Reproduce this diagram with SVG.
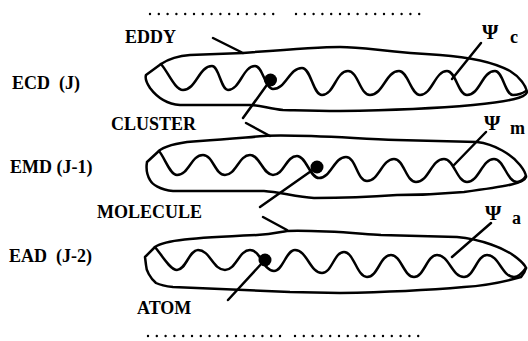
<svg xmlns="http://www.w3.org/2000/svg" width="528" height="341" viewBox="0 0 528 341">
<style>
.t{font-family:"Liberation Serif","Times New Roman",serif;font-weight:bold;font-size:18px;fill:#000;white-space:pre}
.p{font-size:21px}
.s{fill:none;stroke:#000;stroke-width:2.5;stroke-linecap:round;stroke-linejoin:round}
.d{fill:none;stroke:#000;stroke-width:2.4;stroke-linecap:round;stroke-dasharray:0 8.8}
.dot{fill:#000}
</style>
<rect width="528" height="341" fill="#fff"/>
<g id="dots-top">
<path class="d" d="M150,14H282M296,14H426"/>
</g>
<g id="dots-bottom">
<path class="d" d="M148,336H282M295,336H423"/>
</g>
<g id="ecd">
<path class="s" d="M161,64 C167,60 175,56 190,55 L243,53 C280,50 320,47 340,47 C365,47 385,52 440,55 C470,57 495,63 510,71 C520,77 526,86 527,92 C526,98 510,101 473,105 C440,108 410,110 340,111 C310,111 290,110 283,110 C270,109 260,105 250,105 L180,105 C166,104 156,96 150,88 C146,82 145,78 146,75 Z"/>
<path class="s" d="M161,64 C168,72 175,90 183,90 C196,90 199,66 212,66 C219,66 221,90 228,90 C240,90 243,66 255,66 C263,66 265,89 273,89 C286,89 289,68 302,68 C311,68 313,95 322,95 C334,95 336,71 348,71 C358,71 360,95 370,95 C383,95 386,71 399,71 C408,71 411,95 420,95 C432,95 435,71 447,71 C456,71 458,95 467,95 C480,95 482,71 495,71 C503,71 505,95 513,95 C519,95 523,93 526,91"/>
<circle class="dot" cx="270.5" cy="80" r="6.5"/>
<text class="t" x="12" y="89">ECD  (J)</text>
</g>
<g id="emd">
<path class="s" d="M160,150 C168,145 180,142 200,141 C230,139 250,137 264,136 C290,134 330,137 397,140 L477,142 C495,144 512,155 520,165 C524,170 526,174 526,177 C524,183 510,186 464,192 C430,195 410,195 397,195 C370,197 330,198 314,198 C296,197 280,192 264,191 L173,191 C160,190 152,184 150,180 C147,175 146,168 147,162 Z"/>
<path class="s" d="M159,151 C165,158 170,175 177,175 C189,175 191,155 203,155 C213,155 215,175 225,175 C236,175 239,155 250,155 C260,155 263,175 273,175 C284,175 286,156 297,156 C306,156 310,178 319,178 C331,178 334,157 346,157 C356,157 357,181 367,181 C379,181 382,159 394,159 C404,159 406,182 416,182 C429,182 431,159 444,159 C454,159 457,182 467,182 C479,182 482,159 494,159 C504,159 507,182 517,182 C521,182 524,179 526,176"/>
<circle class="dot" cx="317" cy="167" r="6.5"/>
<text class="t" x="10" y="173">EMD (J-1)</text>
</g>
<g id="ead">
<path class="s" d="M155,247 C165,240 190,238 257,235 C272,234 280,232 287,231 C320,230 350,233 381,235 L457,237 C480,239 505,248 517,258 C522,262 525,265 526,268 C525,272 523,275 521,277 C500,283 480,286 464,287 C430,290 400,292 340,293 L290,292 C240,290 200,288 173,287 C163,286 158,284 156,283 C150,278 146,270 146,265 L145,257 Z"/>
<path class="s" d="M155,247 C161,254 170,270 177,270 C186,270 189,250 198,250 C210,250 213,270 225,270 C236,270 239,250 250,250 C261,250 263,271 274,271 C283,271 286,250 295,250 C307,250 310,273 322,273 C332,273 334,252 344,252 C354,252 357,277 367,277 C378,277 380,255 391,255 C401,255 404,277 414,277 C424,277 427,255 437,255 C449,255 452,277 464,277 C474,277 477,255 487,255 C499,255 502,277 514,277 C519,277 523,272 526,268"/>
<circle class="dot" cx="265" cy="260" r="6.5"/>
<text class="t" x="9" y="262">EAD  (J-2)</text>
</g>
<g id="labels">
<text class="t" x="125" y="43">EDDY</text>
<text class="t" x="111" y="130">CLUSTER</text>
<text class="t" x="97" y="218">MOLECULE</text>
<text class="t" x="137" y="314">ATOM</text>
<text class="t p" x="482" y="39">Ψ</text><text class="t" x="510" y="42.5">c</text>
<text class="t p" x="484" y="130">Ψ</text><text class="t" x="510" y="133.5">m</text>
<text class="t p" x="485" y="220">Ψ</text><text class="t" x="512" y="224">a</text>
</g>
<g id="connectors">
<path class="s" d="M213,38L243,53"/>
<path class="s" d="M269,82L243,118"/>
<path class="s" d="M481,43L452,79"/>
<path class="s" d="M246,123L270,136"/>
<path class="s" d="M314,169L260,207"/>
<path class="s" d="M486,132L454,165"/>
<path class="s" d="M263,217L287,230"/>
<path class="s" d="M263,262L228,300"/>
<path class="s" d="M491,223L452,257"/>
</g>
</svg>
